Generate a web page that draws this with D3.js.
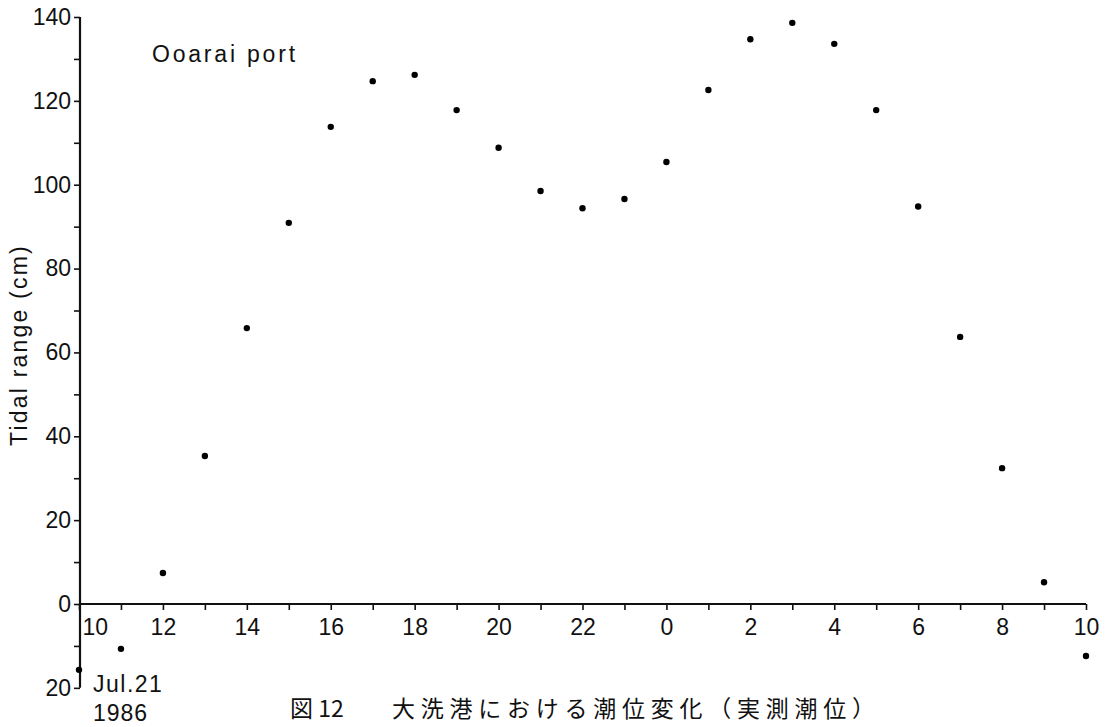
<!DOCTYPE html>
<html>
<head>
<meta charset="utf-8">
<script src="https://cdn.jsdelivr.net/npm/d3@7"></script>
<style>
  body { margin: 0; background: #fff; }
  svg text { font-family: "Liberation Sans", Arial, sans-serif; fill: #111; }
  .domain { stroke: #111; stroke-width: 2.2px; }
  .tick line { stroke: #111; stroke-width: 1.6px; }
</style>
</head>
<body>
<div id="chart"></div>
<script>
// heures d'observation (21-22 juillet 1986)
var hours = [10, 11, 12, 13, 14, 15, 16, 17, 18, 19, 20, 21, 22, 23, 0, 1, 2, 3, 4, 5, 6, 7, 8, 9, 10];
var tidal = [-15.7, -10.7, 7.4, 35.3, 65.8, 90.9, 113.8, 124.7, 126.2, 117.8, 108.8, 98.5, 94.4, 96.6,
             105.4, 122.6, 134.7, 138.6, 133.6, 117.8, 94.8, 63.7, 32.4, 5.2, -12.4];
var yTicks = [-20, -10, 0, 10, 20, 30, 40, 50, 60, 70, 80, 90, 100, 110, 120, 130, 140];

var width = 1107, height = 727;

var svg = d3.select("#chart").append("svg")
    .attr("width", width)
    .attr("height", height);

var x = d3.scaleLinear().domain([0, hours.length - 1]).range([79, 1086]);
var y = d3.scaleLinear().domain([0, 140]).range([604, 17]);

// axe Y
var yAxis = svg.append("g")
    .attr("transform", "translate(80,0)")
    .call(d3.axisLeft(y)
        .tickValues(yTicks)
        .tickSize(6)
        .tickPadding(3)
        .tickFormat(d => d % 20 === 0 ? Math.abs(d) : ""));
yAxis.select(".domain").attr("d", "M0," + y(140) + "V" + y(-20));
yAxis.selectAll("text").style("font-size", "23px");

// axe X (à y = 0)
var xAxis = svg.append("g")
    .attr("transform", "translate(0," + y(0) + ")")
    .call(d3.axisBottom(x)
        .tickValues(d3.range(hours.length))
        .tickSize(6)
        .tickPadding(9)
        .tickFormat(i => i % 2 === 0 ? hours[i] : ""));
xAxis.select(".domain").attr("d", "M" + x(0) + ",0H" + x(hours.length - 1));
xAxis.selectAll("text").style("font-size", "23px");
// le premier "10" est décalé à droite de l'axe Y
xAxis.selectAll(".tick").filter(i => i === 0).select("text").attr("text-anchor", "start").attr("x", 3);

// points
svg.selectAll("circle.pt")
    .data(tidal)
    .enter()
    .append("circle")
    .attr("class", "pt")
    .attr("cx", (d, i) => x(i))
    .attr("cy", d => y(d))
    .attr("r", 3.2)
    .attr("fill", "#000");

// textes
svg.append("text")
    .attr("x", 152).attr("y", 62)
    .style("font-size", "23px")
    .style("letter-spacing", "2.8px")
    .text("Ooarai port");

svg.append("text")
    .attr("transform", "translate(27," + 345 + ") rotate(-90)")
    .attr("text-anchor", "middle")
    .style("font-size", "23px")
    .style("letter-spacing", "2.2px")
    .text("Tidal range (cm)");

svg.append("text")
    .attr("x", 93).attr("y", 692)
    .style("font-size", "23px")
    .style("letter-spacing", "1.5px")
    .text("Jul.21");

svg.append("text")
    .attr("x", 93).attr("y", 721)
    .style("font-size", "23px")
    .style("letter-spacing", "1px")
    .text("1986");

svg.append("text")
    .attr("x", 290).attr("y", 717)
    .style("font-family", "'Noto Sans CJK JP', sans-serif")
    .style("font-size", "23px")
    .text("図 12");

svg.append("text")
    .attr("x", 392).attr("y", 717)
    .attr("textLength", 483)
    .attr("lengthAdjust", "spacing")
    .style("font-family", "'Noto Sans CJK JP', sans-serif")
    .style("font-size", "23px")
    .text("大洗港における潮位変化（実測潮位）");
</script>
</body>
</html>
